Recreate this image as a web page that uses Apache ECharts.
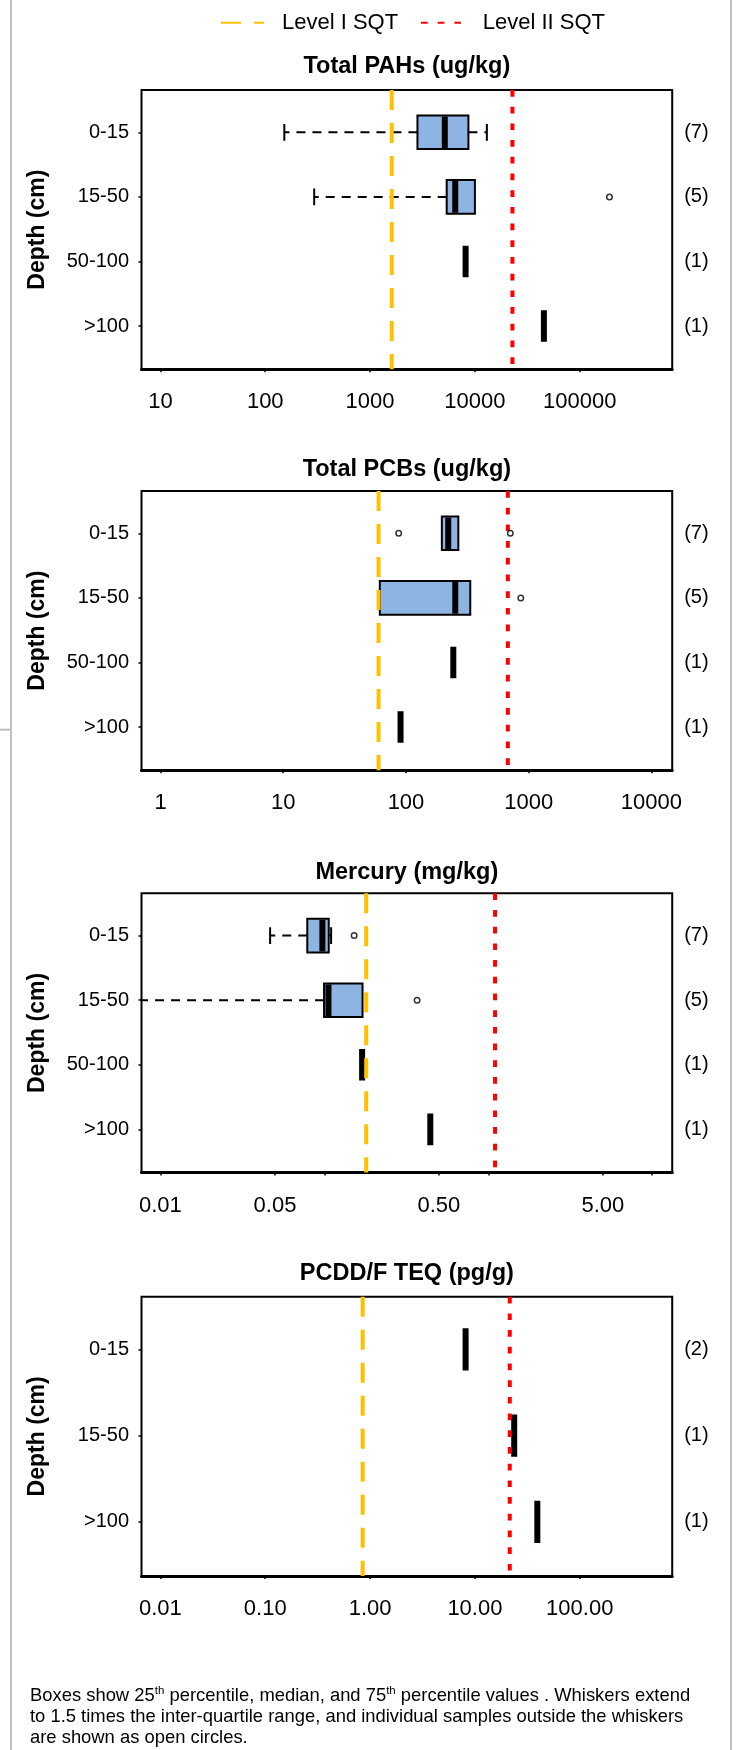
<!DOCTYPE html>
<html>
<head>
<meta charset="utf-8">
<script src="https://cdn.jsdelivr.net/npm/echarts@6/dist/echarts.min.js"></script>
<style>
  html, body { margin: 0; padding: 0; background: #fff; }
  #chart { width: 739px; height: 1750px; }
</style>
</head>
<body>
<div id="chart"></div>
<script>
const FONT = '"Liberation Sans", Arial, Helvetica, sans-serif';

// Depth intervals, top row first
const depthRows4 = ['0-15', '15-50', '50-100', '>100'];
const depthRows3 = ['0-15', '15-50', '>100'];

// Total PAHs (ug/kg) — boxes are [low whisker, Q1, median, Q3, high whisker]
const pahCounts = ['(7)', '(5)', '(1)', '(1)'];
const pahBoxes = [[152, 2830, 5160, 8670, 13000], [293, 5380, 6490, 10000, 10000], null, null];
const pahSingles = [null, null, 8150, 45500];
const pahOutliers = [[192000, 1]];            // [value, row]
const pahSqt = [1610, 22800];                 // [Level I, Level II]
const pahTicks = [10, 100, 1000, 10000, 100000];
const pahLabels = [10, 100, 1000, 10000, 100000];
const pahRange = [6.6, 762000];

// Total PCBs (ug/kg)
const pcbCounts = ['(7)', '(5)', '(1)', '(1)'];
const pcbBoxes = [[196, 196, 221, 267, 267], [61.2, 61.2, 252, 334, 334], null, null];
const pcbSingles = [null, null, 243, 90.3];
const pcbOutliers = [[87.2, 0], [708, 0], [862, 1]];
const pcbSqt = [59.8, 676];
const pcbTicks = [1, 10, 100, 1000, 10000];
const pcbLabels = [1, 10, 100, 1000, 10000];
const pcbRange = [0.70, 14760];

// Mercury (mg/kg)
const hgCounts = ['(7)', '(5)', '(1)', '(1)'];
const hgBoxes = [[0.0467, 0.0787, 0.0973, 0.1064, 0.110], [0.004, 0.0996, 0.106, 0.171, 0.171], null, null];
const hgSingles = [null, null, 0.170, 0.443];
const hgOutliers = [[0.152, 0], [0.368, 1]];
const hgSqt = [0.18, 1.1];
const hgTicks = [0.01, 0.05, 0.1, 0.5, 1, 5, 10];
const hgLabels = [0.01, 0.05, 0.5, 5];
const hgRange = [0.00767, 13.24];

// PCDD/F TEQ (pg/g)
const teqCounts = ['(2)', '(1)', '(1)'];
const teqBoxes = [null, null, null];
const teqSingles = [8.15, 23.7, 39.4];
const teqOutliers = [];
const teqSqt = [0.85, 21.5];
const teqTicks = [0.01, 0.1, 1, 10, 100];
const teqLabels = [0.01, 0.1, 1, 10, 100];
const teqRange = [0.0066, 762];

const L = Math.log10;
const intFmt = v => String(Math.round(v));
const decFmt = v => v.toFixed(2);

const panels = [
  { title: 'Total PAHs (ug/kg)', rows: depthRows4, counts: pahCounts, boxes: pahBoxes, singles: pahSingles,
    outliers: pahOutliers, sqt: pahSqt, ticks: pahTicks, labels: pahLabels, range: pahRange, fmt: intFmt },
  { title: 'Total PCBs (ug/kg)', rows: depthRows4, counts: pcbCounts, boxes: pcbBoxes, singles: pcbSingles,
    outliers: pcbOutliers, sqt: pcbSqt, ticks: pcbTicks, labels: pcbLabels, range: pcbRange, fmt: intFmt },
  { title: 'Mercury (mg/kg)', rows: depthRows4, counts: hgCounts, boxes: hgBoxes, singles: hgSingles,
    outliers: hgOutliers, sqt: hgSqt, ticks: hgTicks, labels: hgLabels, range: hgRange, fmt: decFmt },
  { title: 'PCDD/F TEQ (pg/g)', rows: depthRows3, counts: teqCounts, boxes: teqBoxes, singles: teqSingles,
    outliers: teqOutliers, sqt: teqSqt, ticks: teqTicks, labels: teqLabels, range: teqRange, fmt: decFmt }
];

// layout of the four plot frames
const GRID_LEFT = 141.5, GRID_W = 530.7, GRID_H = 279.3;
const gridTops = [90, 491, 893.3, 1296.7];
const titleYs = [66.7, 470, 872.3, 1274];
const BOX_FILL = '#8EB4E3';
const YELLOW = '#FFC000', RED = '#FF0000';

function rowExtent(n) {
  return n === 4 ? [-0.655, 3.67] : [-0.61, 2.627];
}

function renderBox(params, api) {
  const row = api.value(5);
  const cs = params.coordSys;
  const y0 = api.coord([api.value(2), row])[1];
  const unit = Math.abs(api.coord([api.value(2), row + 1])[1] - y0);
  const half = unit * 0.26, capHalf = unit * 0.13;
  const x = [0, 1, 2, 3, 4].map(d => api.coord([api.value(d), row])[0]);
  const children = [];
  const whisker = (a, b) => ({ type: 'line', shape: { x1: a, y1: y0, x2: b, y2: y0 },
    style: { stroke: '#000', lineWidth: 2, lineDash: [9, 7] } });
  const cap = xx => ({ type: 'line', shape: { x1: xx, y1: y0 - capHalf, x2: xx, y2: y0 + capHalf },
    style: { stroke: '#000', lineWidth: 2 } });
  if (x[1] - x[0] > 0.5) {
    children.push(whisker(x[1], Math.max(x[0], cs.x)));
    if (x[0] >= cs.x) children.push(cap(x[0]));
  }
  if (x[4] - x[3] > 0.5) {
    children.push(whisker(x[3], x[4]));
    children.push(cap(x[4]));
  }
  children.push({ type: 'rect', shape: { x: x[1], y: y0 - half, width: x[3] - x[1], height: 2 * half },
    style: { fill: BOX_FILL, stroke: '#000', lineWidth: 2 } });
  children.push({ type: 'line', shape: { x1: x[2], y1: y0 - half + 1, x2: x[2], y2: y0 + half - 1 },
    style: { stroke: '#000', lineWidth: 6 } });
  return { type: 'group', children };
}

function renderSingle(params, api) {
  const p = api.coord([api.value(0), api.value(1)]);
  const unit = Math.abs(api.coord([api.value(0), api.value(1) + 1])[1] - p[1]);
  const half = unit * 0.245;
  return { type: 'line', shape: { x1: p[0], y1: p[1] - half, x2: p[0], y2: p[1] + half },
    style: { stroke: '#000', lineWidth: 6 } };
}

const grid = [], xAxis = [], yAxis = [], series = [], graphic = [];

panels.forEach((pn, i) => {
  const n = pn.rows.length;
  const ext = rowExtent(n);
  const idx = pn.rows.map((_, k) => k);
  grid.push({ left: GRID_LEFT, top: gridTops[i], width: GRID_W, height: GRID_H,
    show: true, borderColor: '#000', borderWidth: 2, backgroundColor: 'transparent' });
  xAxis.push({
    gridIndex: i, type: 'value', min: L(pn.range[0]), max: L(pn.range[1]),
    axisLine: { show: true, onZero: false, lineStyle: { color: '#000', width: 3 } },
    axisTick: { show: true, customValues: pn.ticks.map(L), length: 3, lineStyle: { color: '#000', width: 1.5 } },
    axisLabel: { customValues: pn.labels.map(L), formatter: v => pn.fmt(Math.pow(10, v)),
      fontSize: 22, color: '#000', fontFamily: FONT, margin: 22 },
    splitLine: { show: false }
  });
  yAxis.push({
    gridIndex: i, type: 'value', inverse: true, min: ext[0], max: ext[1],
    axisLine: { show: false, onZero: false },
    axisTick: { show: true, customValues: idx, length: 3, lineStyle: { color: '#000', width: 1.5 } },
    axisLabel: { customValues: idx, formatter: v => pn.rows[Math.round(v)],
      fontSize: 20, color: '#000', fontFamily: FONT, margin: 12.5, padding: [9, 0, 0, 0] },
    splitLine: { show: false }
  });
  yAxis.push({
    gridIndex: i, type: 'value', position: 'right', inverse: true, min: ext[0], max: ext[1],
    axisLine: { show: false, onZero: false }, axisTick: { show: false },
    axisLabel: { customValues: idx, formatter: v => pn.counts[Math.round(v)],
      fontSize: 20, color: '#000', fontFamily: FONT, margin: 12, padding: [9, 0, 0, 0] },
    splitLine: { show: false }
  });

  const boxData = [];
  pn.boxes.forEach((b, k) => { if (b) boxData.push([...b.map(L), k]); });
  const singleData = [];
  pn.singles.forEach((v, k) => { if (v != null) singleData.push([L(v), k]); });

  series.push({
    type: 'custom', xAxisIndex: i, yAxisIndex: 2 * i, renderItem: renderBox, clip: true,
    encode: { x: [0, 1, 2, 3, 4], y: 5 }, data: boxData, z: 2, silent: true
  });
  series.push({
    type: 'custom', xAxisIndex: i, yAxisIndex: 2 * i, renderItem: renderSingle, clip: true,
    encode: { x: 0, y: 1 }, data: singleData, z: 2, silent: true
  });
  series.push({
    type: 'scatter', xAxisIndex: i, yAxisIndex: 2 * i, symbol: 'circle', symbolSize: 5.5,
    itemStyle: { color: '#fff', borderColor: '#000', borderWidth: 1.5 },
    data: pn.outliers.map(o => [L(o[0]), o[1]]), z: 5, silent: true
  });
  series.push({
    type: 'line', name: 'Level I SQT', xAxisIndex: i, yAxisIndex: 2 * i, symbol: 'none', showSymbol: false,
    lineStyle: { color: YELLOW, width: 4, type: [20, 13] }, itemStyle: { color: YELLOW },
    data: [[L(pn.sqt[0]), ext[0]], [L(pn.sqt[0]), ext[1]]], z: 4, silent: true
  });
  series.push({
    type: 'line', name: 'Level II SQT', xAxisIndex: i, yAxisIndex: 2 * i, symbol: 'none', showSymbol: false,
    lineStyle: { color: RED, width: 4, type: [6.7, 10] }, itemStyle: { color: RED },
    data: [[L(pn.sqt[1]), ext[0]], [L(pn.sqt[1]), ext[1]]], z: 4, silent: true
  });

  graphic.push({ type: 'text', x: GRID_LEFT + GRID_W / 2, y: titleYs[i],
    style: { text: pn.title, align: 'center', verticalAlign: 'middle',
      font: 'bold 23.5px ' + FONT, fill: '#000' } });
  graphic.push({ type: 'text', x: 37.7, y: gridTops[i] + GRID_H / 2, rotation: Math.PI / 2,
    style: { text: 'Depth (cm)', align: 'center', verticalAlign: 'middle',
      font: 'bold 23px ' + FONT, fill: '#000' } });
});

// page frame
graphic.push({ type: 'line', shape: { x1: 11, y1: 0, x2: 11, y2: 1750 }, style: { stroke: '#C0C0C0', lineWidth: 2 } });
graphic.push({ type: 'line', shape: { x1: 731, y1: 0, x2: 731, y2: 1750 }, style: { stroke: '#C0C0C0', lineWidth: 2 } });
graphic.push({ type: 'line', shape: { x1: 0, y1: 729.7, x2: 10, y2: 729.7 }, style: { stroke: '#C0C0C0', lineWidth: 2 } });

// footnote
graphic.push({
  type: 'text', x: 30, y: 1684.8,
  style: {
    text: '{n|Boxes show 25}{s|th}{n| percentile, median, and 75}{s|th}{n| percentile values . Whiskers extend}\n' +
          '{n|to 1.5 times the inter-quartile range, and individual samples outside the whiskers}\n' +
          '{n|are shown as open circles.}',
    align: 'left', verticalAlign: 'top',
    rich: {
      n: { fontSize: 18.4, fontFamily: FONT, lineHeight: 21.3, fill: '#000' },
      s: { fontSize: 11.5, fontFamily: FONT, lineHeight: 15, verticalAlign: 'top', fill: '#000' }
    }
  }
});

const legendText = pad => ({ fontSize: 22, color: '#000', fontFamily: FONT, padding: [6, 0, 0, pad] });
const option = {
  animation: false,
  backgroundColor: '#fff',
  legend: [
    { data: ['Level I SQT'], left: 220, top: 11.7, padding: 0, itemWidth: 43, itemHeight: 14,
      itemStyle: { opacity: 0 }, textStyle: legendText(13), selectedMode: false },
    { data: ['Level II SQT'], left: 420, top: 11.7, padding: 0, itemWidth: 40, itemHeight: 14,
      itemStyle: { opacity: 0 }, textStyle: legendText(16.7), selectedMode: false }
  ],
  grid, xAxis, yAxis, series, graphic
};

const chart = echarts.init(document.getElementById('chart'), null, { renderer: 'canvas' });
chart.setOption(option);
</script>
</body>
</html>
